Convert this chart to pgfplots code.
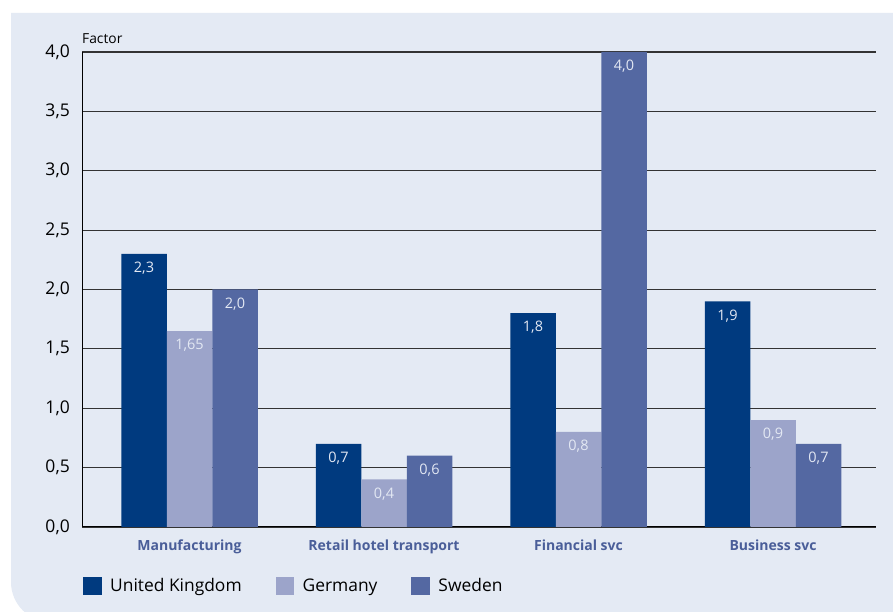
\documentclass[border=0pt]{standalone}
\usepackage{pgfplots}
\pgfplotsset{compat=1.18}
\usepackage{fontspec}
\setmainfont{Open Sans}
\definecolor{bg}{HTML}{E4EAF4}
\definecolor{cUK}{HTML}{003A7F}
\definecolor{cDE}{HTML}{9CA4CA}
\definecolor{cSE}{HTML}{5468A2}
\definecolor{catlab}{HTML}{4A5E99}
\definecolor{vallab}{HTML}{E3E8F3}
\definecolor{gridc}{HTML}{333333}
\begin{document}
\begin{tikzpicture}
\useasboundingbox (0,0) rectangle (893bp,612bp);
\fill[white] (0,0) rectangle (893bp,612bp);
\fill[bg] (893bp,599bp) -- (11bp,599bp) -- (11bp,30bp) arc[start angle=180,end angle=270,radius=40bp] -- (893bp,-10bp) -- cycle;
\begin{axis}[
  at={(82bp,85bp)}, anchor=south west,
  scale only axis, width=794bp, height=475bp,
  xmin=-0.5527, xmax=3.5296, ymin=0, ymax=4,
  axis lines*=left,
  axis line style={draw=black, line width=1bp},
  ymajorgrids, grid style={draw=gridc, line width=1.2bp},
  major tick length=0pt,
  ytick={0,0.5,...,4},
  xtick={0,1,2,3},
  xticklabels={Manufacturing, Retail hotel transport, Financial svc, Business svc},
  /pgf/number format/.cd, fixed, fixed zerofill, precision=1, use comma, assume math mode=true,
  /pgfplots/.cd,
  yticklabel style={font=\fontsize{17.5bp}{20bp}\selectfont, anchor=east, inner sep=0pt, xshift=-12bp},
  xticklabel style={font=\fontsize{14bp}{16bp}\selectfont\bfseries, text=catlab, anchor=north, inner sep=0pt, yshift=-13bp},
  ybar, bar width=45.5bp,
  nodes near coords,
  point meta=explicit symbolic,
  every node near coord/.append style={font=\fontsize{14.5bp}{16bp}\selectfont, text=vallab, anchor=north, inner sep=0pt, yshift=-8bp},
  legend image code/.code={\fill[#1] (0bp,-9bp) rectangle (18.5bp,9bp); \path (25bp,0bp);},
  legend columns=3,
  legend style={draw=none, fill=none, inner sep=0pt, at={(0,0)}, anchor=west, xshift=1bp, yshift=-59bp,
    font=\fontsize{17.4bp}{20bp}\selectfont,
    /tikz/every even column/.append style={column sep=32bp}},
  clip=false,
]
\addplot[fill=cUK, draw=none, bar shift=-45.5bp] table[x=x, y=y, meta=l] {
x y l
0 2.3 2,3
1 0.7 0,7
2 1.8 1,8
3 1.9 1,9
};
\addlegendentry{United Kingdom}
\addplot[fill=cDE, draw=none, bar shift=0bp] table[x=x, y=y, meta=l] {
x y l
0 1.65 1,65
1 0.4 0,4
2 0.8 0,8
3 0.9 0,9
};
\addlegendentry{Germany}
\addplot[fill=cSE, draw=none, bar shift=45.5bp] table[x=x, y=y, meta=l] {
x y l
0 2.0 2,0
1 0.6 0,6
2 4.0 4,0
3 0.7 0,7
};
\addlegendentry{Sweden}
\node[anchor=base west, inner sep=0pt, font=\fontsize{13.8bp}{16bp}\selectfont] at (rel axis cs:0,1) [yshift=8bp] {Factor};
\end{axis}
\end{tikzpicture}
\end{document}
